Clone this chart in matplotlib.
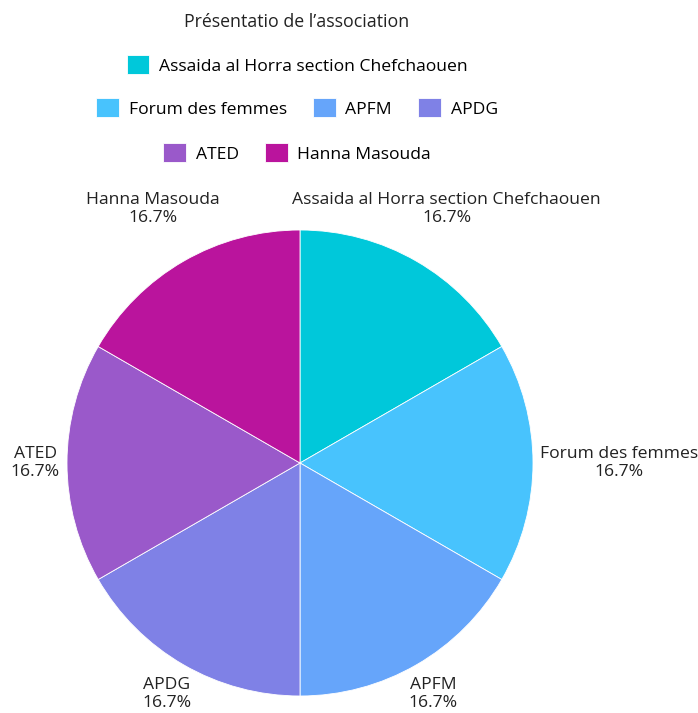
import numpy as np
import matplotlib
matplotlib.use("Agg")
import matplotlib.pyplot as plt

# données
associations = ["Assaida al Horra section Chefchaouen", "Forum des femmes", "APFM",
                "APDG", "ATED", "Hanna Masouda"]
valeurs = [1, 1, 1, 1, 1, 1]
couleurs = ["#00C8DA", "#48C3FD", "#66A5FA", "#7F81E6", "#9A59CA", "#BA149D"]
titre = "Présentatio de l’association"

plt.rcParams['font.family'] = ['Open Sans', 'DejaVu Sans']
W, H = 698, 713
fig = plt.figure(figsize=(W / 100, H / 100), dpi=100)

cx, cy, r = 300, 463, 233
ax = fig.add_axes([(cx - r) / W, (H - cy - r) / H, 2 * r / W, 2 * r / H])
wedges, _ = ax.pie(valeurs, colors=couleurs, startangle=90, counterclock=False,
                   radius=1, wedgeprops=dict(edgecolor='white', linewidth=0.6))
ax.set_xlim(-1, 1)
ax.set_ylim(-1, 1)
ax.axis('off')

fs = 12.6
total = sum(valeurs)
for w, nom, v in zip(wedges, associations, valeurs):
    ang = np.deg2rad((w.theta1 + w.theta2) / 2)
    x, y = np.cos(ang), np.sin(ang)
    txt = f"{nom}\n{100 * v / total:.1f}%"
    if abs(y) < 0.3:
        ha = 'left' if x > 0 else 'right'
        ax.text(1.03 * x, y, txt, ha=ha, va='center', fontsize=fs, multialignment='center',
                color='#222222', linespacing=1.2, clip_on=False)
    else:
        d = 1.26 if y > 0 else 1.145
        ax.text(d * x, d * y, txt, ha='center', va='center', fontsize=fs,
                color='#222222', linespacing=1.2, clip_on=False)

fig.text(297 / W, 1 - 22 / H, titre, ha='center', va='center', fontsize=12.8, color='#222222')

rangs = [[0], [1, 2, 3], [4, 5]]
ys = [65, 108, 153]
for idx, yy in zip(rangs, ys):
    fig.legend([wedges[i] for i in idx], [associations[i] for i in idx],
               loc='center', bbox_to_anchor=(297 / W, 1 - yy / H), ncol=len(idx),
               frameon=False, fontsize=fs, handlelength=1.3, handleheight=1.3,
               handletextpad=0.55, columnspacing=1.5, borderpad=0)

fig.savefig("out.png", dpi=100)
